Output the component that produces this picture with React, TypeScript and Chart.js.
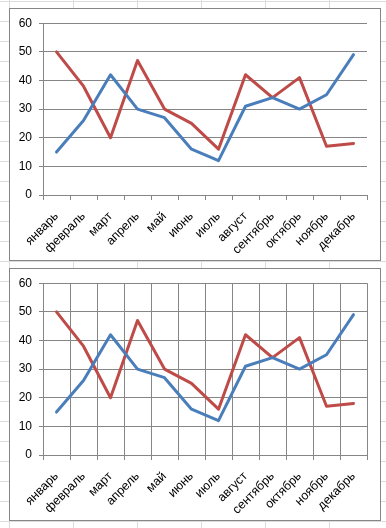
import React, { useEffect, useRef } from "react";
import { Chart, registerables } from "chart.js";

Chart.register(...registerables);

const months = ["январь", "февраль", "март", "апрель", "май", "июнь", "июль", "август", "сентябрь", "октябрь", "ноябрь", "декабрь"];
const blueSeries = [15, 26, 42, 30, 27, 16, 12, 31, 34, 30, 35, 49];
const redSeries = [50, 38, 20, 47, 30, 25, 16, 42, 34, 41, 17, 18];
const yTicks = [0, 10, 20, 30, 40, 50, 60];

const GRID = "#868686";
const BLUE = "#4A7EBB";
const RED = "#BE4B48";
const FONT = { family: "'Liberation Sans', Arial, sans-serif", size: 12 };
const XFONT = { family: "'Liberation Sans', Arial, sans-serif", size: 12.5 };

function LineChart({ vgrid }: { vgrid: boolean }) {
  const ref = useRef<HTMLCanvasElement | null>(null);
  useEffect(() => {
    if (!ref.current) return;
    const chart = new Chart(ref.current, {
      type: "line",
      data: {
        labels: months,
        datasets: [
          { data: blueSeries, borderColor: BLUE, borderWidth: 3, pointRadius: 0, tension: 0, borderJoinStyle: "round", borderCapStyle: "round", fill: false },
          { data: redSeries, borderColor: RED, borderWidth: 3, pointRadius: 0, tension: 0, borderJoinStyle: "round", borderCapStyle: "round", fill: false },
        ],
      },
      options: {
        responsive: false,
        animation: false,
        devicePixelRatio: 1,
        layout: { padding: { top: 14, right: 13, left: 0, bottom: 0 } },
        plugins: { legend: { display: false }, tooltip: { enabled: false } },
        scales: {
          x: {
            type: "category",
            offset: true,
            grid: { offset: true, display: true, drawOnChartArea: vgrid, drawTicks: true, tickLength: 5, color: GRID, lineWidth: 1 },
            border: { color: GRID },
            ticks: { maxRotation: 45, minRotation: 45, autoSkip: false, color: "#000", font: XFONT, padding: 9 },
            afterFit: (s: any) => { s.height = 65; },
          },
          y: {
            min: 0,
            max: 60,
            afterBuildTicks: (s: any) => { s.ticks = yTicks.map((v) => ({ value: v })); },
            ticks: { color: "#000", font: FONT, padding: 7 },
            grid: { color: GRID, tickLength: 4, drawTicks: true, lineWidth: 1 },
            border: { color: GRID },
            afterFit: (s: any) => { s.width = 33; },
          },
        },
      } as any,
    });
    return () => chart.destroy();
  }, [vgrid]);
  return <canvas ref={ref} width={370} height={251} style={{ display: "block", width: 370, height: 251 }} />;
}

export default function App() {
  const box = (top: number): React.CSSProperties => ({
    position: "absolute",
    left: 9,
    top,
    width: 370,
    height: 251,
    border: `1px solid ${GRID}`,
    background: "#fff",
  });
  return (
    <div
      style={{
        position: "fixed",
        left: 0,
        top: 0,
        width: 386,
        height: 528,
        backgroundColor: "#fff",
        backgroundImage:
          "linear-gradient(to bottom, #dadcdd 1px, transparent 1px), linear-gradient(to right, #dadcdd 1px, transparent 1px)",
        backgroundSize: "100% 20px, 64px 100%",
        backgroundPosition: "0 1px, 9px 0",
        overflow: "hidden",
      }}
    >
      <div style={box(8)}>
        <LineChart vgrid={false} />
      </div>
      <div style={box(268)}>
        <LineChart vgrid={true} />
      </div>
    </div>
  );
}
